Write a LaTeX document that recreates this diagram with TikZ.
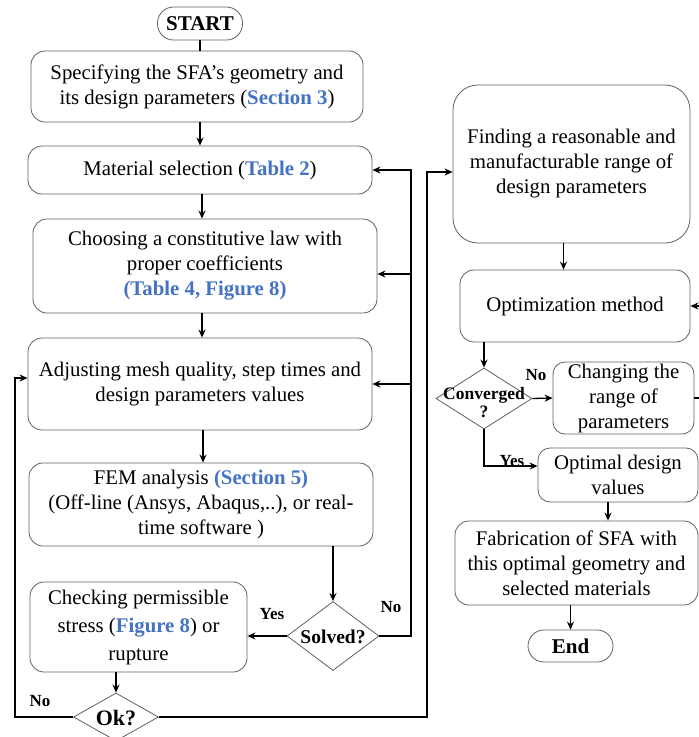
\documentclass[tikz,border=0pt]{standalone}
\usepackage{fontspec}
\setmainfont{Liberation Serif}
\usetikzlibrary{arrows.meta,shapes.geometric}
\definecolor{lnk}{HTML}{4472C4}
\definecolor{bord}{HTML}{606060}
\newcommand{\bl}[1]{\textbf{\textcolor{lnk}{#1}}}
\begin{document}
\begin{tikzpicture}[x=1pt,y=-1pt,
  box/.style={draw=bord, line width=0.8pt, rounded corners=14pt, align=center, inner sep=0pt, font=\fontsize{20.8}{25}\selectfont},
  term/.style={draw=bord, line width=0.8pt, rounded corners=16pt, align=center, inner sep=0pt, font=\bfseries\fontsize{21}{22}\selectfont},
  dia/.style={draw=bord, line width=0.8pt, diamond, inner sep=0pt},
  dtxt/.style={font=\bfseries\fontsize{19.5}{20}\selectfont, align=center, inner sep=0pt},
  arr/.style={-{Stealth[length=8pt,width=7pt]}, line width=1.3pt},
  ln/.style={line width=1.3pt},
  lab/.style={font=\bfseries\fontsize{17}{17}\selectfont, inner sep=0pt}]
\useasboundingbox (0,0) rectangle (699,737);

% left column
\node[term, minimum width=85pt, minimum height=33pt] (start) at (200,23.5) {START};
\node[box, minimum width=332pt, minimum height=71pt] (b1) at (197,86.5) {Specifying the SFA’s geometry and\\its design parameters (\bl{Section 3})};
\node[box, minimum width=344pt, minimum height=48pt] (b2) at (200,170) {Material selection (\bl{Table 2})};
\node[box, minimum width=344pt, minimum height=94pt] (b3) at (205,266) {Choosing a constitutive law with\\proper coefficients\\\bl{(Table 4, Figure 8)}};
\node[box, minimum width=344pt, minimum height=92pt] (b4) at (200,384) {Adjusting mesh quality, step times and\\design parameters values};
\node[box, minimum width=344pt, minimum height=83pt] (b5) at (201,504.5) {FEM analysis \bl{(Section 5)}\\(Off-line (Ansys, Abaqus,..), or real-\\time software )};
\node[dia, minimum width=92pt, minimum height=69pt] (solved) at (333,636) {};
\node[dtxt] (solvedt) at (333,637) {Solved?};
\node[box, font=\fontsize{20.8}{28}\selectfont, minimum width=217pt, minimum height=90pt] (b6) at (138.5,627) {Checking permissible\\stress (\bl{Figure 8}) or\\rupture};
\node[dia, minimum width=85pt, minimum height=48pt] (ok) at (116,717) {};
\node[dtxt, font=\bfseries\fontsize{22}{22}\selectfont] (okt) at (116,718) {Ok?};

% right column
\node[box, rounded corners=25pt, minimum width=237pt, minimum height=158pt] (b7) at (571.5,164) {Finding a reasonable and\\manufacturable range of\\design parameters};
\node[box, minimum width=230pt, minimum height=72pt] (b8) at (575,306) {Optimization method};
\node[dia, minimum width=96pt, minimum height=61pt] (conv) at (484,398.5) {};
\node[dtxt, font=\bfseries\fontsize{17.5}{18}\selectfont] (convt) at (484,403) {Converged\\?};
\node[box, rounded corners=12pt, minimum width=141pt, minimum height=72pt] (b9) at (623.5,398) {Changing the\\range of\\parameters};
\node[box, rounded corners=12pt, minimum width=160pt, minimum height=54pt] (b10) at (618,475) {Optimal design\\values};
\node[box, rounded corners=14pt, minimum width=243pt, minimum height=84pt] (b11) at (576.5,563) {Fabrication of SFA with\\this optimal geometry and\\selected materials};
\node[term, minimum width=85pt, minimum height=32pt] (end) at (570.5,646) {End};

% coordinates for loops
\coordinate (nx) at (411,0);
\coordinate (lx) at (15,0);
\coordinate (rx) at (427,0);
\coordinate (ex) at (706,0);

% left connectors
\draw[ln] (start) -- (start |- b1.north);
\draw[arr] (b2.north |- b1.south) -- (b2.north);
\draw[arr] ([xshift=2pt]b2.south) -- ([xshift=2pt]b2.south |- b3.north);
\draw[arr] ([xshift=-3pt]b3.south) -- ([xshift=-3pt]b3.south |- b4.north);
\draw[arr] ([xshift=3pt]b4.south) -- ([xshift=3pt]b4.south |- b5.north);
\draw[arr] (solved.north |- b5.south) -- (solved.north);
\draw[arr] (solved.west) -- (solved.west -| b6.east);
\draw[arr] (solved.east) -- (solved.east -| nx) |- (b2.east);
\draw[arr] (nx |- 0,274) -- ([yshift=-8pt]b3.east);
\draw[arr] (nx |- b4.east) -- (b4.east);
\draw[arr] (ok.north |- b6.south) -- (ok.north);
\draw[arr] (ok.west) -- (ok.west -| lx) |- ([yshift=6pt]b4.west);
\draw[arr] (ok.east) -- (ok.east -| rx) |- ([yshift=-8pt]b7.west);

% right connectors
\draw[arr] ([xshift=-8pt]b7.south) -- ([xshift=-8pt]b7.south |- b8.north);
\draw[arr] (conv.north |- b8.south) -- (conv.north);
\draw[arr] (conv.east) -- (b9.west);
\draw[arr] (b9.east) -- (b9.east -| ex) |- (b8.east);
\draw[arr] (conv.south) |- ([yshift=9pt]b10.west);
\draw[arr] ([xshift=-10pt]b10.south) -- ([xshift=-10pt]b10.south |- b11.north);
\draw[arr] (end.north |- b11.south) -- (end.north);

% labels
\node[lab] (lyes1) at (272,614) {Yes};
\node[lab] (lno1) at (391,607) {No};
\node[lab] (lno2) at (40,701) {No};
\node[lab] (lno3) at (536,375) {No};
\node[lab] (lyes2) at (512,461) {Yes};
\end{tikzpicture}
\end{document}
